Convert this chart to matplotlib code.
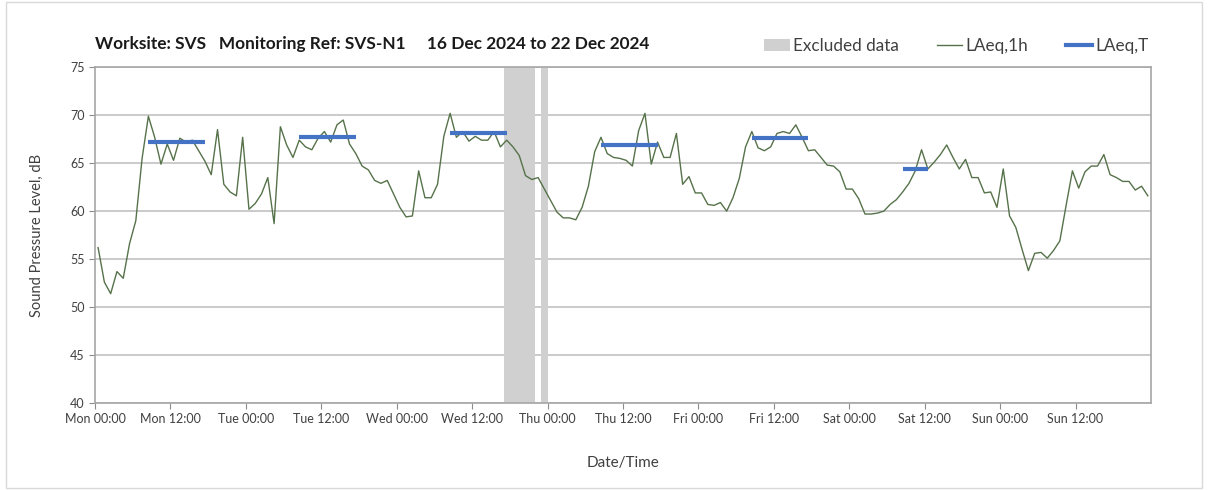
import numpy as np
import matplotlib
matplotlib.use('Agg')
from matplotlib import pyplot as plt
from matplotlib.patches import Patch, Rectangle
from matplotlib.lines import Line2D

plt.rcParams['font.family'] = ['Lato', 'DejaVu Sans']

# hourly LAeq,1h values, Mon 00:00 .. Sun 23:00
laeq_1h = [
    56.2, 52.6, 51.4, 53.7, 53.0, 56.6, 59.0, 65.5, 69.9, 67.7, 64.9, 67.0,
    65.3, 67.6, 67.2, 67.4, 66.3, 65.2, 63.8, 68.5, 62.8, 62.0, 61.6, 67.7,
    60.2, 60.8, 61.8, 63.5, 58.7, 68.8, 66.9, 65.6, 67.4, 66.7, 66.4, 67.6,
    68.3, 67.2, 69.0, 69.5, 67.0, 66.0, 64.7, 64.3, 63.2, 62.9, 63.2, 61.8,
    60.4, 59.4, 59.5, 64.2, 61.4, 61.4, 62.8, 67.8, 70.2, 67.7, 68.3, 67.3,
    67.8, 67.4, 67.4, 68.3, 66.7, 67.4, 66.7, 65.8, 63.7, 63.3, 63.5, 62.3,
    61.1, 59.9, 59.3, 59.3, 59.1, 60.4, 62.6, 66.2, 67.7, 66.0, 65.6, 65.5,
    65.3, 64.7, 68.4, 70.2, 64.9, 67.2, 65.6, 65.6, 68.1, 62.8, 63.6, 61.9,
    61.9, 60.7, 60.6, 60.9, 60.0, 61.4, 63.4, 66.7, 68.3, 66.6, 66.3, 66.7,
    68.1, 68.3, 68.1, 69.0, 67.7, 66.3, 66.4, 65.6, 64.8, 64.7, 64.1, 62.3,
    62.3, 61.3, 59.7, 59.7, 59.8, 60.0, 60.7, 61.2, 62.0, 62.9, 64.2, 66.4,
    64.4, 65.1, 65.9, 66.9, 65.6, 64.4, 65.4, 63.5, 63.5, 61.9, 62.0, 60.4,
    64.4, 59.5, 58.3, 56.0, 53.8, 55.6, 55.7, 55.1, 55.9, 56.9, 60.6, 64.2,
    62.4, 64.1, 64.7, 64.7, 65.9, 63.8, 63.5, 63.1, 63.1, 62.2, 62.6, 61.6,
]

# LAeq,T assessment periods: start hour, end hour (from Mon 00:00), level
period_start = [8, 32, 56, 80, 104, 128]
period_end = [18, 42, 66, 90, 114, 133]
period_level = [67.2, 67.7, 68.1, 66.9, 67.6, 64.4]

# excluded data windows (hours from Mon 00:00)
excl_start = [65, 71]
excl_end = [70, 72]

days = ['Mon', 'Tue', 'Wed', 'Thu', 'Fri', 'Sat', 'Sun']

green = '#56724a'
blue = '#4472c4'
grey_band = '#d0d0d0'

fig = plt.figure(figsize=(12.08, 4.90), dpi=100)
ax = fig.add_axes([0.0786, 0.1776, 0.8742, 0.6851])

for s, e in zip(excl_start, excl_end):
    ax.axvspan(s, e, color=grey_band, lw=0, zorder=1)

hours = np.arange(len(laeq_1h)) + 0.5
ax.plot(hours, laeq_1h, color=green, lw=1.0, zorder=3)

for s, e, v in zip(period_start, period_end, period_level):
    ax.plot([s + 0.5, e - 0.5], [v, v], color=blue, lw=3, solid_capstyle='butt', zorder=4)

ax.set_xlim(0, 168)
ax.set_ylim(40, 75)
ax.set_yticks(np.arange(40, 76, 5))
ax.set_xticks(np.arange(0, 168, 12))
ax.set_xticklabels([d + (' 00:00' if i % 2 == 0 else ' 12:00')
                    for d in days for i in range(2)])
ax.set_xticks(np.arange(24, 168, 24), minor=True)

ax.grid(True, axis='y', color='#c6c6c6', lw=1.3, zorder=0)
ax.grid(True, axis='x', which='minor', color='#e4e4e4', lw=2, zorder=0)
ax.set_axisbelow(True)
ax.tick_params(axis='x', which='minor', length=0)
ax.tick_params(axis='both', which='major', length=4, color='#8c8c8c',
               labelsize=9, labelcolor='#404040')
for sp in ax.spines.values():
    sp.set_color('#a6a6a6')
    sp.set_linewidth(1.2)

ax.set_ylabel('Sound Pressure Level, dB', fontsize=10.5, color='#404040', labelpad=19)
ax.set_xlabel('Date/Time', fontsize=11, color='#404040', labelpad=22)

fig.text(0.0786, 0.91, 'Worksite: SVS   Monitoring Ref: SVS-N1     16 Dec 2024 to 22 Dec 2024',
         fontsize=12.4, fontweight='bold', color='#1a1a1a', va='center')

handles = [Patch(facecolor=grey_band, edgecolor='none'),
           Line2D([], [], color=green, lw=1),
           Line2D([], [], color=blue, lw=3)]
ax.legend(handles, ['Excluded data', 'LAeq,1h', 'LAeq,T'], loc='lower right',
          bbox_to_anchor=(1.012, 0.995), ncol=3, frameon=False, fontsize=12.3,
          handlelength=1.5, handletextpad=0.2, columnspacing=2.2,
          labelcolor='#404040')

fig.add_artist(Rectangle((0.005, 0.005), 0.99, 0.99, transform=fig.transFigure,
                         fill=False, edgecolor='#d9d9d9', lw=1))

fig.savefig('out.png', dpi=100)
